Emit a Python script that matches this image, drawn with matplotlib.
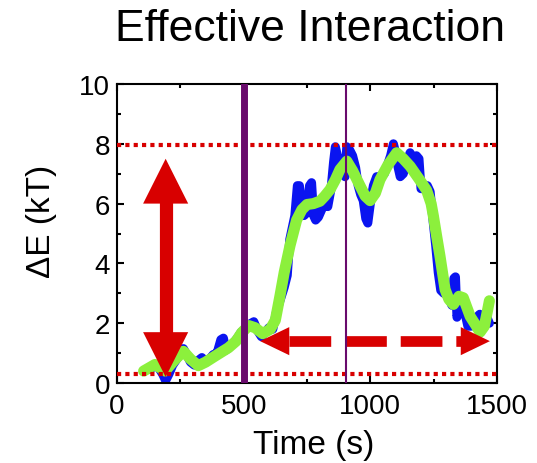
import matplotlib
matplotlib.use("Agg")
import matplotlib.pyplot as plt
from matplotlib.ticker import MultipleLocator

plt.rcParams['font.family'] = ['Liberation Sans', 'DejaVu Sans']

# raw energy trace (blue)
raw_t = [130, 150, 165, 180, 192, 205, 220, 240, 262, 275, 290, 305, 320, 335, 350,
         365, 380, 395, 410, 420, 430, 445, 460, 475, 490, 505, 520, 540, 555, 570,
         585, 600, 615, 630, 645, 660, 672, 682, 692, 702, 712, 720, 728, 738, 750,
         760, 768, 776, 784, 795, 808, 820, 832, 845, 855, 862, 870, 880, 890, 900,
         907, 918, 930, 942, 952, 962, 972, 982, 990, 1000, 1012, 1025, 1040, 1055,
         1068, 1080, 1091, 1100, 1110, 1118, 1130, 1145, 1157, 1170, 1182, 1192,
         1200, 1212, 1225, 1236, 1248, 1258, 1268, 1278, 1290, 1300, 1312, 1322,
         1330, 1336, 1342, 1352, 1362, 1372, 1385, 1398, 1410, 1420, 1432, 1445,
         1460, 1470]
raw_e = [0.45, 0.6, 0.5, 0.3, 0.08, 0.3, 0.6, 0.85, 1.15, 0.95, 0.7, 0.6, 0.75, 0.85, 0.7,
         0.8, 0.95, 1.0, 1.45, 1.5, 1.1, 1.2, 1.35, 1.5, 1.7, 1.8, 1.95, 2.05, 1.75, 1.55,
         1.7, 1.85, 1.8, 2.4, 2.8, 3.2, 3.6, 4.8, 5.2, 5.6, 6.6, 6.6, 6.0, 5.6, 5.7,
         6.6, 6.7, 5.6, 5.45, 5.55, 5.8, 6.0, 5.9, 6.5, 7.4, 7.9, 7.6, 7.45, 7.0, 6.9,
         7.9, 7.8, 7.6, 7.2, 6.6, 6.3, 6.1, 5.5, 5.35, 6.0, 6.6, 6.9, 6.9, 7.0,
         7.3, 7.6, 8.0, 7.7, 7.2, 6.9, 7.0, 7.4, 7.7, 7.4, 7.6, 7.5,
         6.5, 6.5, 6.6, 6.4, 5.4, 4.6, 3.7, 3.1, 3.0, 3.1, 2.8, 2.6,
         3.5, 3.55, 2.2, 2.5, 2.6, 2.4, 1.9, 1.9, 2.1, 2.2, 2.3, 2.1,
         2.2, 2.0]

# smoothed trace (green)
smooth_t = [105, 150, 190, 225, 262, 290, 321, 350, 387, 440, 470, 492, 520, 545, 575,
            605, 625, 643, 660, 683, 709, 730, 750, 775, 801, 820, 841, 862, 880, 907,
            930, 959, 980, 999, 1020, 1038, 1070, 1104, 1130, 1157, 1190, 1222, 1240,
            1249, 1262, 1275, 1295, 1310, 1328, 1350, 1367, 1394, 1415, 1433, 1450,
            1462, 1470]
smooth_e = [0.4, 0.62, 0.4, 0.75, 1.06, 0.8, 0.58, 0.7, 0.9, 1.18, 1.4, 1.68, 1.92, 1.85, 1.65,
            1.8, 2.1, 2.9, 3.7, 4.6, 5.45, 5.8, 5.97, 6.0, 6.08, 6.25, 6.47, 6.8, 7.14, 7.42,
            7.1, 6.6, 6.25, 6.1, 6.35, 6.8, 7.3, 7.7, 7.5, 7.25, 6.85, 6.45, 6.0,
            5.58, 4.9, 4.24, 3.13, 2.8, 2.63, 2.9, 2.85, 2.23, 1.95, 1.7, 1.9,
            2.4, 2.75]

levels = [7.95, 0.3]      # dotted red reference levels
markers = [500, 905]      # vertical purple lines

red = '#d80000'
purple = '#690a6c'

fig = plt.figure(figsize=(5.37, 4.64), dpi=100)
ax = fig.add_axes([0.2179, 0.1724, 0.7076, 0.6444])

ax.plot(raw_t, raw_e, color='#0a14f0', lw=6.5, solid_joinstyle='round',
        solid_capstyle='round', zorder=2)
ax.plot(smooth_t, smooth_e, color='#8cf03c', lw=8, solid_joinstyle='round',
        solid_capstyle='round', zorder=3)

for lv in levels:
    ax.axhline(lv, color=red, lw=3, ls=(0, (1, 1)), dash_capstyle='butt', zorder=4)

# vertical double arrow (solid)
vx, vy0, vy1, vhead, vhw = 192, 0.2, 7.5, 1.5, 89
ax.plot([vx, vx], [vy0 + vhead - 0.05, vy1 - vhead + 0.05], color=red, lw=9.5,
        solid_capstyle='butt', zorder=5)
ax.fill([vx - vhw, vx, vx + vhw], [vy1 - vhead, vy1, vy1 - vhead], color=red, lw=0, zorder=5)
ax.fill([vx - vhw, vx, vx + vhw], [vy0 + vhead, vy0, vy0 + vhead], color=red, lw=0, zorder=5)

# horizontal double arrow (dashed)
hy, hx0, hx1, hhead, hhw = 1.4, 565, 1472, 115, 0.47
ax.plot([hx0 + hhead, hx1 - hhead], [hy, hy], color=red, lw=7.7,
        ls=(0, (3.9, 1.3)), dash_capstyle='butt', zorder=5)
ax.fill([hx0 + hhead, hx0, hx0 + hhead], [hy - hhw, hy, hy + hhw], color=red, lw=0, zorder=5)
ax.fill([hx1 - hhead, hx1, hx1 - hhead], [hy - hhw, hy, hy + hhw], color=red, lw=0, zorder=5)

ax.axvline(markers[0], color=purple, lw=5, zorder=6)
ax.axvline(markers[1], color=purple, lw=1.5, zorder=6)

ax.set_xlim(0, 1500)
ax.set_ylim(0, 10)
ax.xaxis.set_major_locator(MultipleLocator(500))
ax.xaxis.set_minor_locator(MultipleLocator(250))
ax.yaxis.set_major_locator(MultipleLocator(2))
ax.yaxis.set_minor_locator(MultipleLocator(1))
ax.tick_params(which='both', direction='in', top=True, right=True, width=1.5)
ax.tick_params(which='major', length=5)
ax.tick_params(which='minor', length=3)
ax.tick_params(axis='x', labelsize=20, pad=7)
ax.tick_params(axis='y', labelsize=20, pad=5)
for s in ax.spines.values():
    s.set_linewidth(1.5)

ax.set_xlabel('Time (s)', fontsize=24)
ax.xaxis.set_label_coords(0.517, -0.154)
ax.set_ylabel('ΔE (kT)', fontsize=24)
ax.yaxis.set_label_coords(-0.158, 0.545)

fig.text(0.577, 1 - 41 / 464, 'Effective Interaction', fontsize=32,
         ha='center', va='baseline')

fig.savefig('out.png', dpi=100)
